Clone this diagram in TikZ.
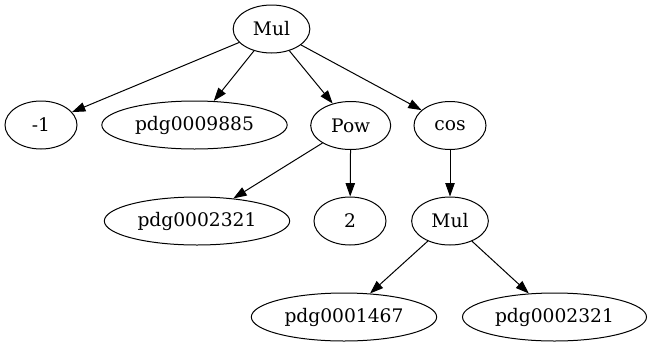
\documentclass[tikz,border=0pt]{standalone}
\usepackage{fontspec}
\setmainfont{DejaVu Serif}
\usetikzlibrary{shapes.geometric,arrows.meta}
\begin{document}
\begin{tikzpicture}[x=0.75pt,y=-0.75pt,
  gv/.style={draw,ellipse,line width=0.75pt,inner sep=0pt,minimum height=36pt,font=\fontsize{14pt}{16pt}\selectfont},
  edge/.style={line width=0.75pt,-{Triangle[length=10pt,width=7pt]}}]
\useasboundingbox (0,0) rectangle (653,347);
\node[gv,minimum width=57.5pt] (m1) at (271.5,29) {Mul};
\node[gv,minimum width=54pt] (n1) at (41,125) {-1};
\node[gv,minimum width=139pt] (p9) at (194.5,125) {pdg0009885};
\node[gv,minimum width=60pt] (pow) at (350.7,125.5) {Pow};
\node[gv,minimum width=54pt] (cos) at (450,125.5) {cos};
\node[gv,minimum width=139pt] (p2a) at (197,221) {pdg0002321};
\node[gv,minimum width=54pt] (two) at (350,221) {2};
\node[gv,minimum width=57.5pt] (m2) at (450,221) {Mul};
\node[gv,minimum width=139pt] (p4) at (344,317) {pdg0001467};
\node[gv,minimum width=138pt] (p2b) at (554.5,317) {pdg0002321};
\draw[edge] (m1) -- (n1);
\draw[edge] (m1) -- (p9);
\draw[edge] (m1) -- (pow);
\draw[edge] (m1) -- (cos);
\draw[edge] (pow) -- (p2a);
\draw[edge] (pow) -- (two);
\draw[edge] (cos) -- (m2);
\draw[edge] (m2) -- (p4);
\draw[edge] (m2) -- (p2b);
\end{tikzpicture}
\end{document}
